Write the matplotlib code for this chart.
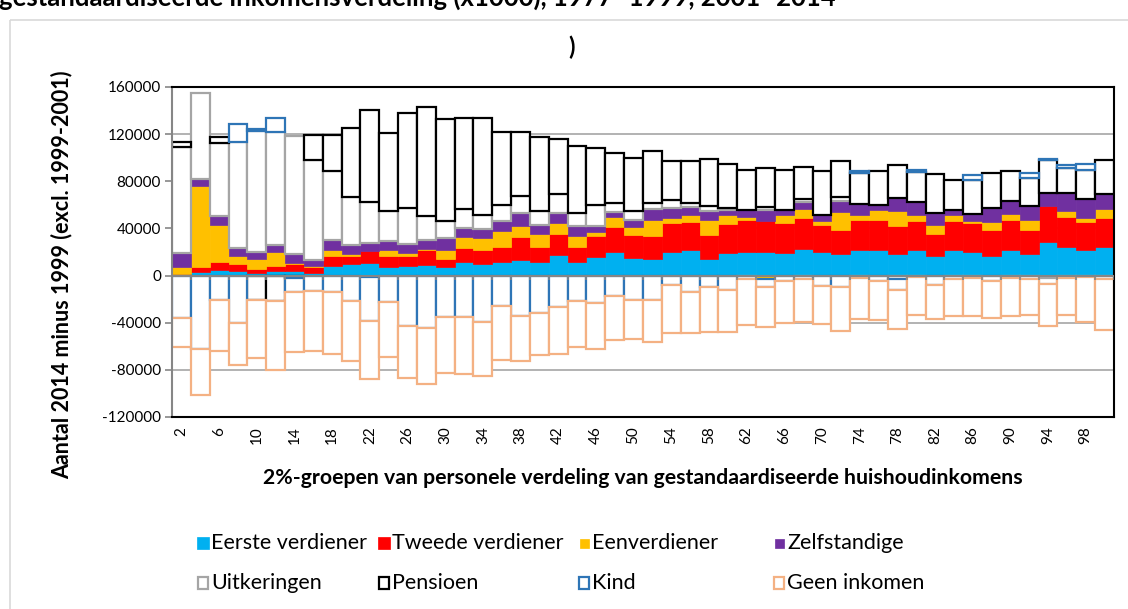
import numpy as np
import matplotlib
matplotlib.use('Agg')
import matplotlib.pyplot as plt
from matplotlib.patches import Rectangle

plt.rcParams['font.family'] = ['Lato', 'DejaVu Sans']

# 2%-groepen (2, 4, ..., 100)
groepen = list(range(2, 101, 2))

# verschil 2014 minus 1999, per groep
eerste = [0, 2800, 5100, 3700, 2000, 3700, 4300, 2000, 8500, 9900,
          10500, 7100, 8500, 9100, 7100, 11300, 9900, 11300, 13600, 11900,
          17600, 11300, 15600, 19900, 14800, 14200, 20400, 21300, 14200, 19000,
          20400, 20400, 19300, 22700, 19900, 18400, 21300, 21300, 18400, 21300,
          16200, 21300, 19900, 17000, 21300, 17900, 28400, 24100, 21800, 24100]
tweede = [1500, 4300, 6200, 6200, 3700, 4000, 5700, 5100, 7700, 7100,
          10200, 9100, 8500, 12800, 7100, 11900, 11900, 13300, 19000, 12200,
          17300, 12800, 18400, 21300, 19300, 19000, 24100, 24100, 19900, 25000,
          26400, 25500, 25300, 26400, 22700, 20400, 26100, 26100, 23500, 24700,
          19300, 24700, 24700, 21300, 26100, 21000, 30600, 25500, 23500, 25000]
eenverdiener = [5700, 68700, 31200, 7100, 8500, 12200, 600, 1400, 5700, 1400,
                -1400, 5700, 2000, 800, 7700, 9900, 10200, 13000, 9400, 11300,
                9900, 9400, 2800, 8500, 7100, 14200, 4300, 5700, 12800, 7100,
                2800, -2800, 6500, 7700, 3700, 15000, 3700, 7900, 13300, 5700,
                7700, 5100, 1400, 7100, 4500, 7900, -2000, 4800, 3700, 7700]
zelfstandige = [12200, 6000, 7700, 6200, 6200, 6200, 7900, 4300, 8500, 7700,
                7100, 7100, 7900, 7100, 9900, 7400, 7100, 8500, 11100, 7900,
                8200, 8200, 5100, 4300, 6200, 9400, 8800, 7100, 7900, 4300,
                5700, 9900, 4300, 5700, 4800, 9400, 9400, 4500, 10800, 10800,
                9900, 4300, 6500, 12200, 11300, 11900, 11300, 15900, 16200, 12800]
uitkeringen_plus = [89800, 73500, 62700, 90200, 102400, 95900, 99900, 85100, 58400, 40600,
                    34600, 25800, 30600, 20400, 14500, 16200, 11900, 14200, 14200, 11900,
                    15900, 11300, 17600, 7700, 7100, 4800, 6800, 3400, 4000, 2000,
                    0, 2300, 0, 2300, 0, 3400, 0, 0, 0, 0,
                    0, 0, 0, 0, 0, 0, 0, 0, 0, 0]
uitkeringen_min = [0, 0, 0, 0, 0, 0, 0, 0, 0, 0,
                   0, 0, 0, 0, 0, 0, 0, 0, 0, 0,
                   0, 0, 0, 0, 0, 0, 0, 0, 0, 0,
                   -2800, 0, 0, -2800, 0, 0, -2000, 0, -2500, -1400,
                   0, -2800, -2000, 0, -2000, -2800, -5100, -2000, -1400, -2800]
pensioen_plus = [4300, 0, 4800, 0, 0, 0, 0, 21300, 30400, 58100,
                 78000, 66400, 80600, 92500, 86200, 76600, 82800, 61600, 54800, 62400,
                 46800, 56700, 48800, 42000, 45400, 44000, 32600, 35500, 40000, 36900,
                 34300, 33500, 34600, 27000, 37700, 30600, 26700, 29200, 27500, 25500,
                 33500, 26100, 28400, 29800, 25500, 24400, 27500, 21300, 24700, 28400]
pensioen_min = [0, 0, 0, 0, -20400, -21800, -2000, 0, 0, 0,
                0, 0, 0, 0, 0, 0, 0, 0, 0, 0,
                0, 0, 0, 0, 0, 0, 0, 0, 0, 0,
                0, 0, 0, 0, 0, 0, 0, 0, 0, 0,
                0, 0, 0, 0, 0, 0, 0, 0, 0, 0]
kind_plus = [0, 0, 0, 15600, 1500, 11900, 0, 0, 0, 0,
             0, 0, 0, 0, 0, 0, 0, 0, 0, 0,
             0, 0, 0, 0, 0, 0, 0, 0, 0, 0,
             0, 0, 0, 0, 0, 0, 1700, 0, 0, 1400,
             0, 0, 4300, 0, 0, 4300, 1400, 2000, 4500, 0]
kind_min = [-36000, -62000, -20400, -40600, 0, 0, -12200, -12800, -13600, -21800,
            -36900, -22700, -42600, -44500, -35500, -35500, -39200, -25500, -34000, -32100,
            -27000, -21800, -23300, -17000, -20700, -20700, -7700, -14200, -9900, -11900,
            0, -7000, -4800, 0, -8500, -9400, 0, -4300, -9700, 0,
            -7700, 0, 0, -4300, 0, 0, 0, 0, 0, 0]
geen_inkomen = [-25000, -39700, -44000, -35200, -49600, -58400, -51000, -51600, -53000, -51000,
                -49600, -46800, -44500, -47100, -47400, -48200, -46000, -46000, -38300, -35500,
                -39200, -39200, -38600, -37700, -33200, -35500, -41100, -34900, -37700, -36300,
                -38900, -34000, -35500, -36900, -32600, -37400, -34900, -33500, -33200, -31800,
                -29200, -31200, -32600, -32100, -32600, -30600, -36000, -31500, -37700, -43100]

kleuren = {
    'Eerste verdiener': '#00B0F0',
    'Tweede verdiener': '#FF0000',
    'Eenverdiener': '#FFC000',
    'Zelfstandige': '#7030A0',
    'Uitkeringen': '#A5A5A5',
    'Pensioen': '#000000',
    'Kind': '#2E75B6',
    'Geen inkomen': '#F4B183',
}

# stapelvolgorde zoals in Excel
reeksen = [
    ('Eerste verdiener', eerste, True),
    ('Tweede verdiener', tweede, True),
    ('Eenverdiener', eenverdiener, True),
    ('Zelfstandige', zelfstandige, True),
    ('Uitkeringen', uitkeringen_plus, False),
    ('Uitkeringen', uitkeringen_min, False),
    ('Pensioen', pensioen_plus, False),
    ('Pensioen', pensioen_min, False),
    ('Kind', kind_plus, False),
    ('Kind', kind_min, False),
    ('Geen inkomen', geen_inkomen, False),
]

W, H = 1128, 609
fig = plt.figure(figsize=(W / 100, H / 100), dpi=100)
fig.patch.set_facecolor('white')

ax = fig.add_axes([172 / W, (H - 417) / H, 942 / W, 330 / H])
x = np.arange(len(groepen))
pos = np.zeros(len(groepen))
neg = np.zeros(len(groepen))

for naam, vals, gevuld in reeksen:
    v = np.array(vals, dtype=float)
    onder = np.where(v >= 0, pos, neg)
    m = v != 0
    if gevuld:
        ax.bar(x[m], v[m], bottom=onder[m], width=1.0, color=kleuren[naam],
               edgecolor=kleuren[naam], linewidth=0.5, zorder=2)
    else:
        ax.bar(x[m], v[m], bottom=onder[m], width=1.0, facecolor='white',
               edgecolor=kleuren[naam], linewidth=1.6, zorder=2)
    pos = pos + np.where(v > 0, v, 0)
    neg = neg + np.where(v < 0, v, 0)

ax.set_xlim(-0.5, len(groepen) - 0.5)
ax.set_ylim(-120000, 160000)
ax.set_yticks(np.arange(-120000, 160001, 40000))
ax.set_yticklabels([str(t) for t in range(-120000, 160001, 40000)])
ax.yaxis.grid(True, color='#A6A6A6', linewidth=1.2)
ax.set_axisbelow(True)
ax.tick_params(axis='y', direction='out', length=5, color='#868686', width=1.2,
               labelsize=11, pad=3)
ax.set_xticks(x[::2])
ax.set_xticklabels([str(g) for g in groepen[::2]], rotation=90)
ax.tick_params(axis='x', length=0, labelsize=11, pad=7)

for s in ['top', 'right', 'bottom']:
    ax.spines[s].set_color('black')
    ax.spines[s].set_linewidth(1.5)
ax.spines['left'].set_color('#868686')
ax.spines['left'].set_linewidth(1.5)

# horizontale as bij 0 met streepjes
ax.axhline(0, color='#868686', linewidth=1.5, zorder=3)
tick_len = 4 * 280000 / 330
ax.vlines(np.arange(len(groepen) + 1) - 0.5, -tick_len, 0, color='#868686',
          linewidth=1.2, zorder=3)

# overlay in pixels voor titels, rand en legenda
lay = fig.add_axes([0, 0, 1, 1])
lay.set_xlim(0, W)
lay.set_ylim(H, 0)
lay.axis('off')

lay.add_patch(Rectangle((10, 20), 1300, 700, fill=False, edgecolor='#D9D9D9', linewidth=1.2))
lay.text(-1, 6, 'gestandaardiseerde inkomensverdeling (x1000), 1977- 1999, 2001- 2014',
         fontsize=18.5, fontweight='bold', ha='left', va='baseline')
lay.text(572, 47, ')', fontsize=17, fontweight='bold', ha='center', va='center')
lay.text(62, 275, 'Aantal 2014 minus 1999 (excl. 1999-2001)', rotation=90,
         fontsize=15.5, fontweight='bold', ha='center', va='center')
lay.text(643, 478, '2%-groepen van personele verdeling van gestandaardiseerde huishoudinkomens',
         fontsize=15.3, fontweight='bold', ha='center', va='center')

leg_x = [203, 384, 584, 779]
leg_y = [543, 583]
leg_items = ['Eerste verdiener', 'Tweede verdiener', 'Eenverdiener', 'Zelfstandige',
             'Uitkeringen', 'Pensioen', 'Kind', 'Geen inkomen']
for i, naam in enumerate(leg_items):
    cx = leg_x[i % 4]
    cy = leg_y[i // 4]
    if i < 4:
        s = 12 if i < 2 else 9
        lay.add_patch(Rectangle((cx - s / 2, cy - s / 2), s, s, facecolor=kleuren[naam],
                                edgecolor=kleuren[naam], linewidth=0.5))
    else:
        lay.add_patch(Rectangle((cx - 5, cy - 6), 10, 12, facecolor='white',
                                edgecolor=kleuren[naam], linewidth=1.6))
    lay.text(cx + 8, cy, naam, fontsize=15.5, ha='left', va='center')

fig.savefig('out.png', dpi=100)
